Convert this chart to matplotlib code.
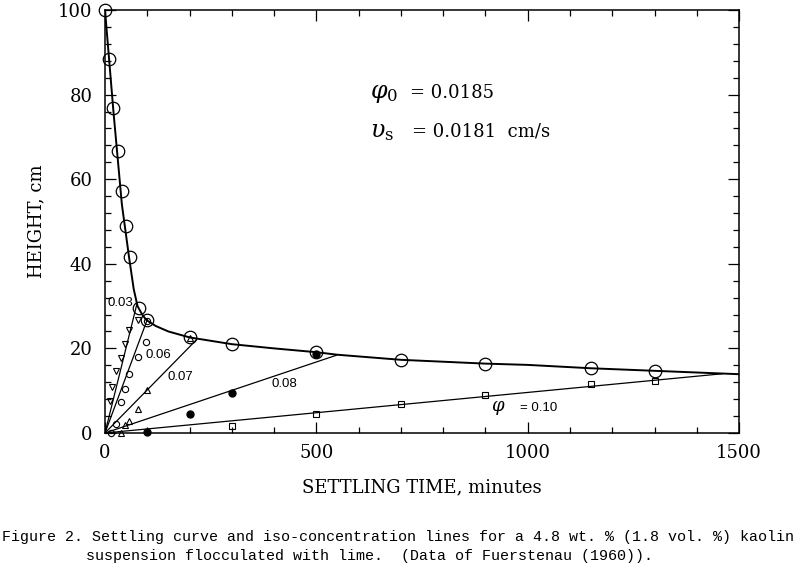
import matplotlib
matplotlib.use('Agg')
import matplotlib.pyplot as plt
from matplotlib.ticker import MultipleLocator

plt.rcParams['mathtext.fontset'] = 'dejavuserif'

# settling curve data (open circles)
set_t = [0, 10, 20, 30, 40, 50, 60, 80, 100, 200, 300, 500, 700, 900, 1150, 1300]
set_h = [100, 88.4, 76.9, 66.6, 57.2, 48.9, 41.7, 29.5, 26.7, 22.6, 21.0, 19.1, 17.3, 16.3, 15.4, 14.7]

# smooth settling curve
curve_t = [0, 20, 40, 57, 68, 77, 88, 98, 120, 150, 200, 250, 300, 400, 500, 550, 700, 900, 1000, 1150, 1300, 1500]
curve_h = [100, 76, 54, 41.5, 34, 30, 28, 26.7, 25.3, 24, 22.6, 21.8, 21.0, 20.0, 19.1, 18.5, 17.3, 16.4, 16.1, 15.3, 14.7, 13.9]

# iso-concentration data
p03_t = [12, 16, 27, 37, 47, 57, 78]
p03_h = [7.6, 10.9, 14.7, 17.7, 21.1, 24.3, 26.6]
p06_t = [15, 26, 38, 47, 57, 79, 98, 100]
p06_h = [0.0, 2.2, 7.3, 10.3, 13.9, 18.0, 21.5, 26.5]
p07_t = [37, 47, 57, 79, 100, 200]
p07_h = [0.0, 1.8, 2.9, 5.7, 10.2, 22.4]
p08_t = [100, 200, 300, 500]
p08_h = [0.2, 4.5, 9.5, 18.6]
p10_t = [300, 500, 700, 900, 1150, 1300]
p10_h = [1.7, 4.5, 6.9, 9.0, 11.6, 12.4]

# end points of the iso-concentration lines (start at origin)
iso_names = ['0.03', '0.06', '0.07', '0.08', '0.10']
iso_end_t = [75, 100, 217, 548, 1460]
iso_end_h = [30.3, 26.8, 22.1, 18.4, 14.0]

fig = plt.figure(figsize=(7.99, 5.66), dpi=100)
ax = fig.add_axes([0.1314, 0.235, 0.7936, 0.7473])

for te, he in zip(iso_end_t, iso_end_h):
    ax.plot([0, te], [0, he], color='black', lw=0.9)
ax.plot(curve_t, curve_h, color='black', lw=1.4)

ax.plot(set_t, set_h, 'o', mfc='none', mec='black', ms=9, mew=0.9, clip_on=False)
ax.plot(p03_t, p03_h, 'v', mfc='none', mec='black', ms=4, mew=0.8, clip_on=False)
ax.plot(p06_t, p06_h, 'o', mfc='none', mec='black', ms=4.5, mew=0.8, clip_on=False)
ax.plot(p07_t, p07_h, '^', mfc='none', mec='black', ms=4, mew=0.8, clip_on=False)
ax.plot(p08_t, p08_h, 'o', color='black', ms=5, clip_on=False)
ax.plot(p10_t, p10_h, 's', mfc='none', mec='black', ms=4.5, mew=0.8, clip_on=False)

lab = dict(family='Liberation Sans', fontsize=9.5, va='center')
ax.text(5, 30.7, '0.03', ha='left', **lab)
ax.text(95, 18.4, '0.06', ha='left', **lab)
ax.text(178, 13.2, '0.07', ha='center', **lab)
ax.text(425, 11.6, '0.08', ha='center', **lab)
ax.text(930, 5.8, r'$\varphi$', ha='center', va='center', fontsize=13)
ax.text(982, 5.9, '= 0.10', ha='left', **lab)

ax.text(627, 80.3, r'$\varphi_0$', ha='left', va='center', fontsize=17)
ax.text(722, 80.3, '= 0.0185', ha='left', va='center', family='DejaVu Serif', fontsize=13)
ax.text(627, 71.3, r'$\upsilon_{\rm s}$', ha='left', va='center', fontsize=17)
ax.text(727, 71.3, '= 0.0181  cm/s', ha='left', va='center', family='DejaVu Serif', fontsize=13)

ax.set_xlim(0, 1500)
ax.set_ylim(0, 100)
ax.xaxis.set_major_locator(MultipleLocator(500))
ax.xaxis.set_minor_locator(MultipleLocator(100))
ax.yaxis.set_major_locator(MultipleLocator(20))
ax.yaxis.set_minor_locator(MultipleLocator(4))
ax.tick_params(which='both', direction='in', top=True, right=True, width=0.9)
ax.tick_params(which='major', length=8)
ax.tick_params(which='minor', length=4.5)
ax.tick_params(axis='x', pad=8)
ax.tick_params(axis='y', pad=9)
for t in ax.get_xticklabels() + ax.get_yticklabels():
    t.set_family('DejaVu Serif')
    t.set_fontsize(13)
for s in ax.spines.values():
    s.set_linewidth(1.1)

ax.set_xlabel('SETTLING TIME, minutes', family='DejaVu Serif', fontsize=13, labelpad=12)
ax.set_ylabel('HEIGHT, cm', family='DejaVu Serif', fontsize=13, labelpad=9)

cap = dict(family='Liberation Mono', fontsize=10.8, va='center', ha='left')
fig.text(0.003, 1 - 537 / 566, 'Figure 2. Settling curve and iso-concentration lines for a 4.8 wt. % (1.8 vol. %) kaolin', **cap)
fig.text(0.108, 1 - 556 / 566, 'suspension flocculated with lime.  (Data of Fuerstenau (1960)).', **cap)

fig.savefig('out.png', dpi=100)
